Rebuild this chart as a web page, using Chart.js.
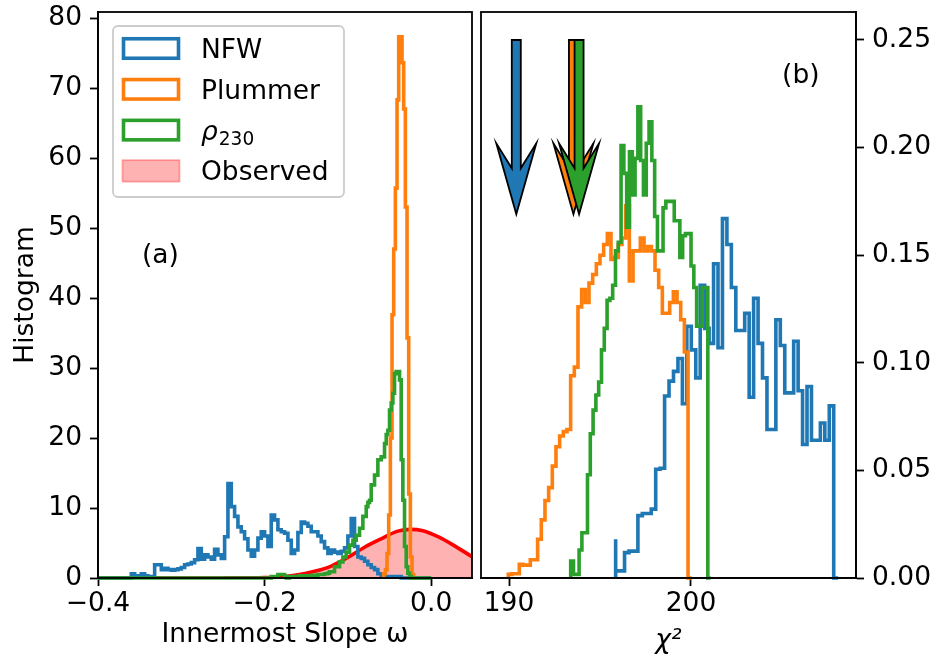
<!DOCTYPE html>
<html lang="en">
<head>
    <meta charset="UTF-8">
    <title>Innermost slope and chi-square histograms</title>
    <script src="https://cdn.jsdelivr.net/npm/chart.js"></script>
    <style>
        body { margin: 0; background: #fff; }
        #wrap { position: relative; width: 936px; height: 665px; }
        #wrap canvas { position: absolute; top: 0; }
        #slopeChart { left: 0; }
        #chiChart { left: 477px; }
    </style>
</head>
<body>
<div id="wrap">
    <canvas id="slopeChart" width="477" height="665"></canvas>
    <canvas id="chiChart" width="459" height="665"></canvas>
</div>
<script>
// ---------- (a) innermost slope histograms ----------
const seriesNames = ['NFW', 'Plummer', 'ρ230', 'Observed'];
const seriesColors = ['#1f77b4', '#ff7f0e', '#2ca02c'];

const slopeRange = [-0.4, 0.0];

const nfwSlopeStart = -0.36, nfwSlopeBin = 0.004;
const nfwSlope = [0.6, 0.6, 0.3, 0.3, 0.6, 0.3, 0.2, 0.2, 1.9, 1.9,
    1.2, 1.4, 1.2, 1.1, 1.2, 1.3, 1.5, 1.9, 2.0, 2.2,
    2.6, 4.2, 2.7, 3.3, 3.0, 2.7, 4.1, 3.3, 2.8, 5.9,
    13.5, 10.2, 8.8, 7.3, 6.6, 5.6, 4.0, 3.1, 4.0, 5.7,
    6.6, 6.0, 4.5, 9.0, 8.3, 6.9, 6.6, 6.4, 5.4, 3.5,
    4.0, 6.5, 8.0, 7.8, 7.4, 6.6, 6.6, 6.0, 5.2, 4.3,
    3.5, 4.0, 3.7, 3.5, 3.8, 4.3, 6.0, 8.5, 4.5, 3.0,
    2.8, 2.4, 1.9, 1.5, 1.2, 0.6, 0.4, 0.2, 0.2, 0.2, 0.2, 0.2];

const plummerSlopeStart = -0.057, plummerSlopeBin = 0.002;
const plummerSlope = [0.3, 0.6, 1.2, 3.5, 9.0, 20.0, 37.6, 47.0, 55.7, 68.3,
    77.3, 77.3, 73.6, 67.0, 53.0, 34.3, 12.0, 3.0, 0.5];

const rhoSlopeStart = -0.2, rhoSlopeBin = 0.002;
const rhoSlope = [0, 0, 0, 0, 0, 0.2, 0.2, 0.2, 0.2, 0.5,
    0.5, 0.5, 0.5, 0.2, 0, 0, 0.2, 0.2, 0.2, 0.2,
    0.2, 0.2, 0.3, 0.3, 0.3, 0.3, 0.3, 0.3, 0.3, 0.4,
    0.4, 0.4, 0.4, 0.5, 0.5, 0.5, 0.5, 0.6, 0.6, 0.7,
    0.9, 0.9, 0.9, 1.6, 1.6, 1.6, 2.3, 2.3, 3.0, 3.0,
    3.7, 3.7, 4.7, 4.7, 5.4, 5.4, 6.1, 6.1, 7.1, 7.1,
    8.8, 8.8, 10.2, 10.8, 11.1, 13.3, 13.3, 14.7, 14.7, 16.9,
    16.9, 17.3, 17.3, 19.2, 20.5, 21.1, 24.0, 25.0, 26.4, 29.2,
    29.5, 29.5, 28.3, 16.9, 11.1, 4.5, 1.6, 0.7, 0.2];

const observedOmega = [-0.40, -0.30, -0.25, -0.22, -0.20, -0.18, -0.16, -0.14, -0.12, -0.10,
    -0.08, -0.06, -0.04, -0.025, -0.01, 0.01, 0.03, 0.05, 0.06];
const observedValue = [0, 0, 0.01, 0.03, 0.07, 0.19, 0.45, 0.95, 1.7, 2.95,
    4.4, 5.6, 6.7, 6.95, 6.75, 5.8, 4.45, 3.0, 2.35];

const slopeTicks = [-0.4, -0.2, 0.0];
const slopeTickLabels = ['−0.4', '−0.2', '0.0'];
const countTicks = [0, 10, 20, 30, 40, 50, 60, 70, 80];

// ---------- (b) chi-square histograms (50 bins each) ----------
const nfwChiRange = [195.86, 208.09];
const nfwChi = [0.018, 0.0033, 0.0033, 0.0118, 0.0125, 0.0125, 0.029, 0.030, 0.030, 0.032,
    0.0505, 0.051, 0.0846, 0.0915, 0.096, 0.102, 0.081, 0.117, 0.106, 0.093,
    0.136, 0.116, 0.109, 0.146, 0.107, 0.167, 0.155, 0.135, 0.115, 0.115,
    0.123, 0.084, 0.130, 0.109, 0.093, 0.069, 0.069, 0.120, 0.108, 0.086,
    0.086, 0.110, 0.087, 0.062, 0.089, 0.064, 0.064, 0.072, 0.064, 0.080];

const plummerChiRange = [189.96, 200.04];
const plummerChi = [0.0017, 0.0017, 0.002, 0.002, 0.0064, 0.006, 0.0059, 0.0085, 0.0085, 0.018,
    0.027, 0.036, 0.042, 0.052, 0.061, 0.066, 0.068, 0.069, 0.094, 0.098,
    0.126, 0.134, 0.128, 0.137, 0.141, 0.146, 0.150, 0.155, 0.160, 0.148,
    0.149, 0.155, 0.158, 0.173, 0.138, 0.152, 0.152, 0.158, 0.152, 0.154,
    0.152, 0.143, 0.135, 0.123, 0.123, 0.128, 0.133, 0.128, 0.120, 0.105];

const rhoChiRange = [193.39, 201.08];
const rhoChi = [0.0079, 0.0079, 0.0017, 0.0017, 0.013, 0.021, 0.021, 0.048, 0.067, 0.078,
    0.085, 0.091, 0.106, 0.116, 0.129, 0.130, 0.136, 0.152, 0.156, 0.201,
    0.188, 0.163, 0.198, 0.178, 0.195, 0.219, 0.194, 0.178, 0.202, 0.212,
    0.194, 0.168, 0.152, 0.152, 0.172, 0.175, 0.175, 0.175, 0.166, 0.166,
    0.149, 0.159, 0.160, 0.160, 0.145, 0.135, 0.117, 0.117, 0.135, 0.135];

// best chi-square of each model, shown as arrows
const arrowChi = [190.40, 193.54, 193.85];
const arrowTop = 0.25, arrowTip = 0.169;

const chiTicks = [190, 200];
const fracTicks = [0, 0.05, 0.10, 0.15, 0.20, 0.25];

const FONT = { family: '"DejaVu Sans", sans-serif', size: 26.5 };
const LINE_W = 3.6;

// outline of a step histogram, optionally extended along zero
function stepPoints(start, width, counts, from, to) {
    const pts = [];
    if (from !== undefined) pts.push({ x: from, y: 0 });
    pts.push({ x: start, y: 0 });
    counts.forEach((c, i) => pts.push({ x: start + i * width, y: c }));
    pts.push({ x: start + counts.length * width, y: 0 });
    if (to !== undefined) pts.push({ x: to, y: 0 });
    return pts;
}

function histDataset(label, color, pts, order) {
    return {
        label: label, data: pts, borderColor: color, borderWidth: LINE_W,
        stepped: 'after', pointRadius: 0, fill: false, order: order,
        clip: { left: 0, top: 0, right: 0, bottom: 3 }
    };
}

function axisStyle() {
    return {
        grid: { drawOnChartArea: false, tickLength: 8, tickWidth: 1.8, tickColor: '#000' },
        border: { color: '#000', width: 1.8 }
    };
}

// fixed axis boxes so the plot areas sit where the figure has them
function fixX(h) {
    return s => { s.height = h; s.paddingLeft = 0; s.paddingRight = 0; };
}
function fixY(w) {
    return s => { s.width = w; s.paddingTop = 0; s.paddingBottom = 0; };
}

const framePlugin = {
    id: 'frame',
    afterDatasetsDraw(chart) {
        const { ctx, chartArea: a } = chart;
        ctx.save();
        ctx.strokeStyle = '#000';
        ctx.lineWidth = 1.8;
        ctx.strokeRect(a.left, a.top, a.right - a.left, a.bottom - a.top);
        ctx.restore();
    }
};

// panel tag like "(a)", placed in data coordinates
const tagPlugin = {
    id: 'tag',
    afterDraw(chart, args, opts) {
        const { ctx, scales } = chart;
        ctx.save();
        ctx.font = FONT.size + 'px ' + FONT.family;
        ctx.fillStyle = '#000';
        ctx.textAlign = 'center';
        ctx.textBaseline = 'middle';
        ctx.fillText(opts.text, scales.x.getPixelForValue(opts.x), scales.y.getPixelForValue(opts.y));
        ctx.restore();
    }
};

const legendPlugin = {
    id: 'boxLegend',
    afterDraw(chart) {
        const { ctx, chartArea: a } = chart;
        ctx.save();
        ctx.beginPath();
        ctx.roundRect(a.left + 15, a.top + 14, 231, 171, 5);
        ctx.fillStyle = 'rgba(255,255,255,0.8)';
        ctx.fill();
        ctx.strokeStyle = '#cccccc';
        ctx.lineWidth = 1.8;
        ctx.stroke();

        chart.data.datasets.forEach((ds, row) => {
            const cy = a.top + 36.5 + row * 40.8;
            const bx = a.left + 25.5, bw = 55, bh = 19.5;
            if (ds.fill) {
                ctx.fillStyle = ds.backgroundColor;
                ctx.fillRect(bx - 1, cy - bh / 2 - 1, bw + 2, bh + 2);
                ctx.strokeStyle = 'rgba(255,0,0,0.3)';
                ctx.lineWidth = 1.8;
                ctx.strokeRect(bx - 1, cy - bh / 2 - 1, bw + 2, bh + 2);
            } else {
                ctx.strokeStyle = ds.borderColor;
                ctx.lineWidth = LINE_W;
                ctx.strokeRect(bx, cy - bh / 2, bw, bh);
            }
            const tx = a.left + 103, base = cy + 9.5;
            ctx.fillStyle = '#000';
            ctx.textBaseline = 'alphabetic';
            ctx.textAlign = 'left';
            if (ds.label === 'ρ230') {
                ctx.font = 'italic ' + FONT.size + 'px ' + FONT.family;
                ctx.fillText('ρ', tx, base);
                const w = ctx.measureText('ρ').width;
                ctx.font = (FONT.size * 0.7) + 'px ' + FONT.family;
                ctx.fillText('230', tx + w + 1, base + 5);
            } else {
                ctx.font = FONT.size + 'px ' + FONT.family;
                ctx.fillText(ds.label, tx, base);
            }
        });
        ctx.restore();
    }
};

const arrowPlugin = {
    id: 'arrows',
    afterDatasetsDraw(chart) {
        const { ctx, scales: { x, y } } = chart;
        const top = y.getPixelForValue(arrowTop), tip = y.getPixelForValue(arrowTip);
        ctx.save();
        ctx.lineWidth = 1.8;
        ctx.strokeStyle = '#000';
        ctx.lineJoin = 'miter';
        arrowChi.forEach((v, i) => {
            const cx = x.getPixelForValue(v);
            const wingY = tip - 71, notchY = tip - 46;
            ctx.beginPath();
            ctx.moveTo(cx - 4.5, top);
            ctx.lineTo(cx + 4.5, top);
            ctx.lineTo(cx + 4.5, notchY);
            ctx.lineTo(cx + 20, wingY);
            ctx.lineTo(cx, tip);
            ctx.lineTo(cx - 20, wingY);
            ctx.lineTo(cx - 4.5, notchY);
            ctx.closePath();
            ctx.fillStyle = seriesColors[i];
            ctx.fill();
            ctx.stroke();
        });
        ctx.restore();
    }
};

// ---------- left chart ----------
new Chart(document.getElementById('slopeChart'), {
    type: 'line',
    data: {
        datasets: [
            histDataset(seriesNames[0], seriesColors[0],
                stepPoints(nfwSlopeStart, nfwSlopeBin, nfwSlope, slopeRange[0], slopeRange[1]), 3),
            histDataset(seriesNames[1], seriesColors[1],
                stepPoints(plummerSlopeStart, plummerSlopeBin, plummerSlope), 2),
            histDataset(seriesNames[2], seriesColors[2],
                stepPoints(rhoSlopeStart, rhoSlopeBin, rhoSlope, slopeRange[0], slopeRange[1]), 1),
            {
                label: seriesNames[3],
                data: observedOmega.map((w, i) => ({ x: w, y: observedValue[i] })),
                borderColor: '#ff0000', borderWidth: LINE_W,
                backgroundColor: 'rgba(255,0,0,0.3)', fill: 'origin',
                cubicInterpolationMode: 'monotone', pointRadius: 0, order: 4
            }
        ]
    },
    options: {
        responsive: false, animation: false, events: [],
        layout: { padding: { top: 12, right: 5, left: 0, bottom: 0 } },
        plugins: {
            legend: { display: false },
            tooltip: { enabled: false },
            tag: { text: '(a)', x: -0.325, y: 46 }
        },
        scales: {
            x: {
                type: 'linear', min: -0.4, max: 0.049,
                ...axisStyle(),
                afterFit: fixX(87),
                afterBuildTicks: s => { s.ticks = slopeTicks.map(v => ({ value: v })); },
                ticks: {
                    font: FONT, color: '#000', padding: 2, maxRotation: 0, autoSkip: false,
                    callback: v => slopeTickLabels[slopeTicks.indexOf(v)]
                },
                title: { display: true, text: 'Innermost Slope ω', font: FONT, color: '#000',
                    padding: { top: 0, bottom: 14 } }
            },
            y: {
                type: 'linear', min: 0, max: 566 / 7,
                ...axisStyle(),
                afterFit: fixY(98),
                afterBuildTicks: s => { s.ticks = countTicks.map(v => ({ value: v })); },
                ticks: { font: FONT, color: '#000', padding: 8, callback: v => String(v) },
                title: { display: true, text: 'Histogram', font: FONT, color: '#000',
                    padding: { top: 10, bottom: 0 } }
            }
        }
    },
    plugins: [framePlugin, tagPlugin, legendPlugin]
});

// ---------- right chart ----------
new Chart(document.getElementById('chiChart'), {
    type: 'line',
    data: {
        datasets: [
            histDataset(seriesNames[0], seriesColors[0],
                stepPoints(nfwChiRange[0], (nfwChiRange[1] - nfwChiRange[0]) / nfwChi.length, nfwChi), 3),
            histDataset(seriesNames[1], seriesColors[1],
                stepPoints(plummerChiRange[0], (plummerChiRange[1] - plummerChiRange[0]) / plummerChi.length, plummerChi), 2),
            histDataset(seriesNames[2], seriesColors[2],
                stepPoints(rhoChiRange[0], (rhoChiRange[1] - rhoChiRange[0]) / rhoChi.length, rhoChi), 1)
        ]
    },
    options: {
        responsive: false, animation: false, events: [],
        layout: { padding: { top: 12, right: 0, left: 4, bottom: 0 } },
        plugins: {
            legend: { display: false },
            tooltip: { enabled: false },
            tag: { text: '(b)', x: 206.04, y: 0.2333 }
        },
        scales: {
            x: {
                type: 'linear', min: 188.46, max: 209.07,
                ...axisStyle(),
                afterFit: fixX(87),
                afterBuildTicks: s => { s.ticks = chiTicks.map(v => ({ value: v })); },
                ticks: { font: FONT, color: '#000', padding: 2, maxRotation: 0, autoSkip: false,
                    callback: v => String(v) },
                title: { display: true, text: 'χ²', color: '#000',
                    font: { family: FONT.family, size: FONT.size, style: 'italic' },
                    padding: { top: 0, bottom: 8 } }
            },
            y: {
                type: 'linear', position: 'right', min: 0, max: 0.263,
                ...axisStyle(),
                afterFit: fixY(80),
                afterBuildTicks: s => { s.ticks = fracTicks.map(v => ({ value: v })); },
                ticks: { font: FONT, color: '#000', padding: 8, callback: v => v.toFixed(2) }
            }
        }
    },
    plugins: [framePlugin, tagPlugin, arrowPlugin]
});
</script>
</body>
</html>
